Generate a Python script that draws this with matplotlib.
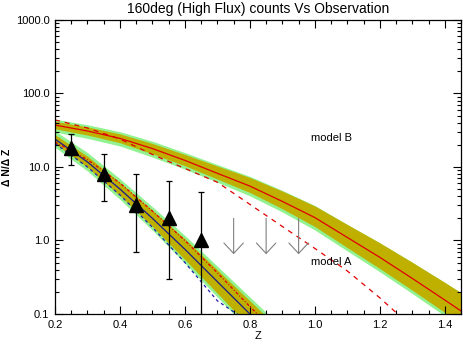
import matplotlib
matplotlib.use('Agg')
import matplotlib.pyplot as plt
from matplotlib.ticker import MultipleLocator, LogLocator, FixedLocator, FuncFormatter

plt.rcParams['font.family'] = ['Liberation Sans', 'DejaVu Sans']

# observed counts
z_obs = [0.25, 0.35, 0.45, 0.55, 0.65]
n_obs = [18.0, 8.0, 3.0, 2.0, 1.0]
n_obs_hi = [28.0, 15.0, 8.0, 6.4, 4.6]
n_obs_lo = [10.6, 3.5, 0.7, 0.3, 0.01]

# upper limits
z_lim = [0.75, 0.85, 0.95]
lim_top = [2.0, 2.0, 2.0]
lim_tip = [0.65, 0.65, 0.65]

# model B (broad band)
z_b = [0.2, 0.3, 0.4, 0.5, 0.6, 0.7, 0.8, 0.9, 1.0, 1.1, 1.2, 1.3, 1.4, 1.45]
b_mid = [37.2, 30.9, 24.5, 17.8, 12.3, 8.2, 5.5, 3.4, 2.05, 1.1, 0.59, 0.305, 0.155, 0.110]
b_olive_hi = [41.7, 35.1, 28.2, 20.9, 14.8, 10.3, 7.2, 4.7, 2.95, 1.65, 0.93, 0.505, 0.269, 0.195]
b_olive_lo = [33.1, 27.2, 21.4, 15.1, 10.4, 6.85, 4.5, 2.7, 1.55, 0.80, 0.415, 0.211, 0.105, 0.072]
b_green_hi = [44.7, 37.6, 30.2, 22.4, 15.7, 10.8, 7.45, 4.8, 2.99, 1.65, 0.93, 0.505, 0.269, 0.195]
b_green_lo = [29.9, 24.5, 19.3, 13.6, 9.33, 6.2, 4.05, 2.44, 1.39, 0.72, 0.375, 0.19, 0.094, 0.065]
z_b_dash = [0.2, 0.3, 0.4, 0.5, 0.6, 0.7, 0.8, 0.9, 1.0, 1.1, 1.2, 1.3]
b_dash = [43.7, 33.9, 24.0, 14.8, 9.55, 6.2, 3.1, 1.55, 0.78, 0.385, 0.166, 0.066]

# model A (steep band)
z_a = [0.2, 0.3, 0.4, 0.5, 0.6, 0.7, 0.8, 0.85]
a_mid = [24.0, 11.7, 5.01, 2.00, 0.759, 0.275, 0.100, 0.060]
a_olive_hi = [27.5, 14.0, 6.17, 2.57, 1.05, 0.398, 0.151, 0.093]
a_olive_lo = [20.9, 9.89, 4.07, 1.55, 0.550, 0.191, 0.066, 0.039]
a_green_hi = [30.9, 15.7, 6.92, 2.88, 1.17, 0.447, 0.170, 0.105]
a_green_lo = [18.6, 8.81, 3.63, 1.38, 0.490, 0.170, 0.059, 0.035]
a_dashdot = [21.9, 12.6, 6.03, 2.51, 1.0, 0.363, 0.126, 0.076]
a_dash = [20.9, 10.0, 4.17, 1.51, 0.501, 0.151, 0.076, 0.05]

OLIVE = '#bfb000'
GREEN = '#92f292'
RED = '#e00000'
NAVY = '#1a1a8c'

fig = plt.figure(figsize=(4.63, 3.44), dpi=100)
ax = fig.add_axes([0.1188, 0.0872, 0.8769, 0.8547])

ax.fill_between(z_b, b_green_lo, b_green_hi, color=GREEN, lw=0)
ax.fill_between(z_b, b_olive_lo, b_olive_hi, color=OLIVE, lw=0)
ax.fill_between(z_a, a_green_lo, a_green_hi, color=GREEN, lw=0)
ax.fill_between(z_a, a_olive_lo, a_olive_hi, color=OLIVE, lw=0)

ax.plot(z_b, b_mid, color=RED, lw=0.9)
ax.plot(z_b_dash, b_dash, color=RED, lw=0.9, ls=(0, (4, 4)))
ax.plot(z_a, a_mid, color=NAVY, lw=0.9)
ax.plot(z_a, a_dashdot, color=RED, lw=0.9, ls=(0, (2.5, 1.5, 0.8, 1.5)))
ax.plot(z_a, a_dash, color='#2020b0', lw=0.9, ls=(0, (2.5, 2.5)))

yerr = [[n - lo for n, lo in zip(n_obs, n_obs_lo)],
        [hi - n for n, hi in zip(n_obs, n_obs_hi)]]
ax.errorbar(z_obs, n_obs, yerr=yerr, fmt='^', color='black', ms=10,
            ecolor='black', elinewidth=0.9, capsize=2.2, capthick=0.9)

for z, top, tip in zip(z_lim, lim_top, lim_tip):
    ax.annotate('', xy=(z, tip), xytext=(z, top),
                arrowprops=dict(arrowstyle='->,head_length=0.75,head_width=0.7',
                                color='#808080', lw=0.8, shrinkA=0, shrinkB=0,
                                mutation_scale=10))

ax.text(1.05, 24.8, 'model B', fontsize=8, ha='center', va='center')
ax.text(1.05, 0.51, 'model A', fontsize=8, ha='center', va='center')

ax.set_yscale('log')
ax.set_xlim(0.2, 1.45)
ax.set_ylim(0.1, 1000.0)

ax.xaxis.set_major_locator(FixedLocator([0.2, 0.4, 0.6, 0.8, 1.0, 1.2, 1.4]))
ax.xaxis.set_minor_locator(MultipleLocator(0.05))
ax.xaxis.set_major_formatter(FuncFormatter(lambda v, p: '%.1f' % v))
ax.yaxis.set_major_locator(LogLocator(base=10))
ax.yaxis.set_minor_locator(LogLocator(base=10, subs=range(2, 10)))
ax.yaxis.set_major_formatter(FuncFormatter(lambda v, p: '%.1f' % v))
ax.tick_params(which='both', direction='in', top=True, right=True,
               labelsize=8, width=0.8, pad=4)
ax.tick_params(which='major', length=6)
ax.tick_params(which='minor', length=3)
for s in ax.spines.values():
    s.set_linewidth(0.9)

ax.set_title('160deg (High Flux) counts Vs Observation', fontsize=10, pad=5)
ax.set_xlabel('Z', fontsize=8, labelpad=1)
ax.set_ylabel('\u0394 N/\u0394 Z', fontsize=7.5, fontweight='bold')
ax.yaxis.set_label_coords(-0.106, 0.5)

fig.savefig('out.png', dpi=100)
